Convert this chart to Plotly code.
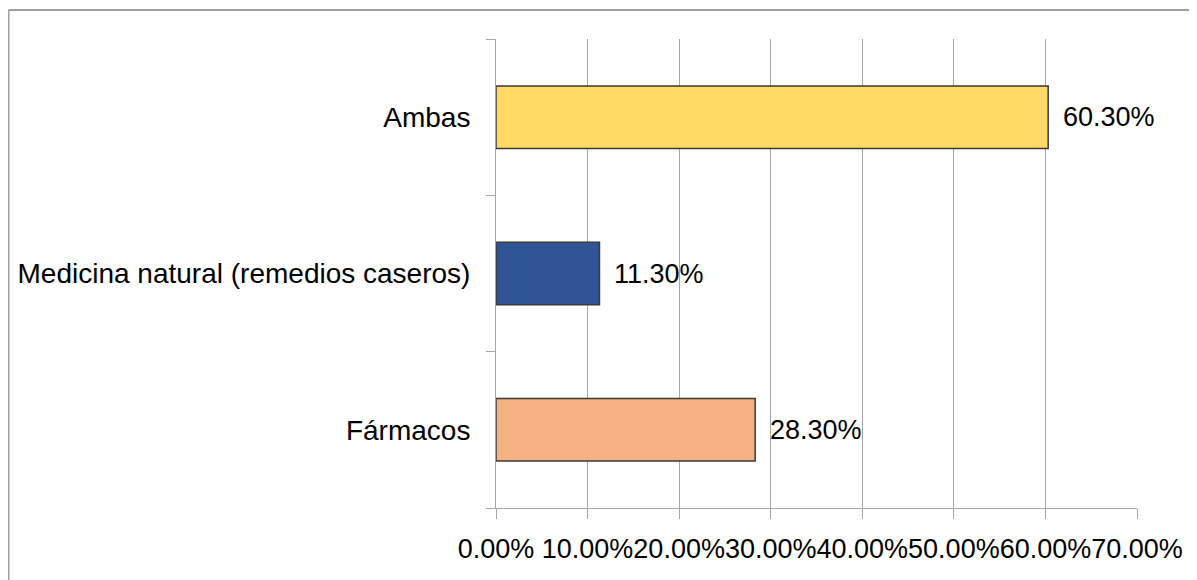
import plotly.graph_objects as go

categories = ["Fármacos", "Medicina natural (remedios caseros)", "Ambas"]
values = [0.283, 0.113, 0.603]
labels = ["28.30%", "11.30%", "60.30%"]
colors = ["#F4B183", "#2F5597", "#FFD966"]
x_ticks = [0.0, 0.1, 0.2, 0.3, 0.4, 0.5, 0.6, 0.7]
x_tick_labels = ["0.00%", "10.00%", "20.00%", "30.00%", "40.00%", "50.00%", "60.00%", "70.00%"]

FONT = "Liberation Sans"
GRID = "#A6A6A6"

fig = go.Figure()
fig.add_trace(go.Bar(
    y=categories, x=values, orientation="h",
    marker=dict(color=colors, line=dict(color="#3A3A3A", width=1.5)),
    width=0.4, showlegend=False, hoverinfo="skip",
))

for c, v, t in zip(categories, values, labels):
    fig.add_annotation(x=v, y=c, text=t, showarrow=False, xanchor="left",
                       xshift=13, font=dict(family=FONT, size=27, color="#000000"))

W, H = 1197, 580
# plot area in figure coordinates (page body adds an 8px offset)
L, R, T, B = 488, 1129, 31, 500
px = lambda x: (x - L) / (R - L)
py = lambda y: (B - y) / (B - T)

fig.add_shape(type="line", xref="paper", yref="paper", x0=px(0.5), x1=px(1197), y0=py(2), y1=py(2),
              line=dict(color="#A0A0A0", width=2))
fig.add_shape(type="line", xref="paper", yref="paper", x0=px(0.5), x1=px(0.5), y0=py(2), y1=py(582),
              line=dict(color="#A0A0A0", width=2))

fig.update_layout(
    width=W, height=H,
    margin=dict(l=L, r=W - R, t=T, b=H - B, pad=0, autoexpand=False),
    paper_bgcolor="white", plot_bgcolor="white",
    font=dict(family=FONT, size=27, color="#000000"),
    xaxis=dict(range=[0, 0.7], tickvals=x_ticks, ticktext=x_tick_labels,
               tickangle=0, automargin=False, ticklabelstandoff=7,
               showgrid=True, gridcolor=GRID, gridwidth=1,
               showline=True, linecolor=GRID, linewidth=1,
               ticks="outside", ticklen=10, tickcolor=GRID, zeroline=False,
               tickfont=dict(family=FONT, size=27, color="#000000")),
    yaxis=dict(categoryorder="array", categoryarray=categories, automargin=False,
               showgrid=False, showline=True, linecolor=GRID, linewidth=1,
               ticks="outside", ticklen=9, tickcolor=GRID, tickson="boundaries",
               ticklabelstandoff=19,
               tickfont=dict(family=FONT, size=28, color="#000000")),
)

fig.write_html("out.html")
